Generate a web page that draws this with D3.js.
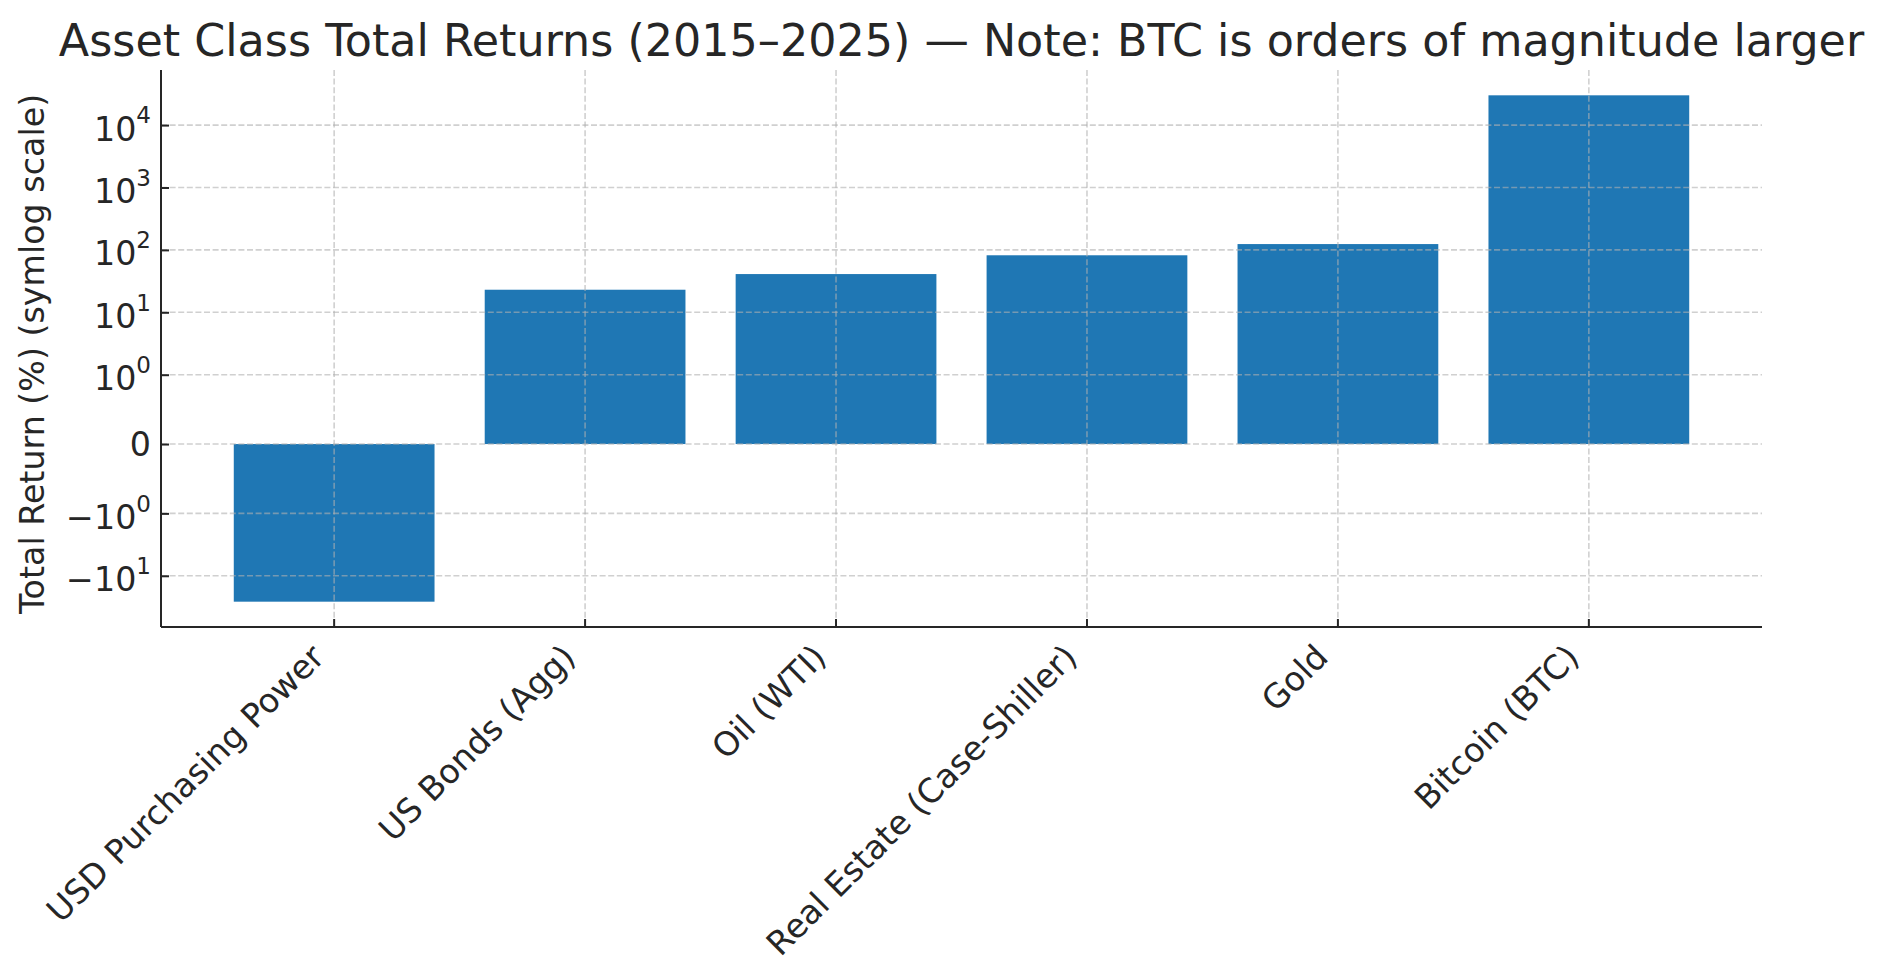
<!DOCTYPE html>
<html>
<head>
<meta charset="utf-8">
<script src="https://cdn.jsdelivr.net/npm/d3@7"></script>
<style>
  body { margin: 0; background: #fff; }
  text { font-family: "DejaVu Sans", sans-serif; fill: #262626; }
  .grid line { stroke: #b0b0b0; stroke-opacity: 0.6; stroke-width: 1.6; stroke-dasharray: 6,2.6; }
  .axis path, .axis line { stroke: #262626; stroke-width: 2; }
</style>
</head>
<body>
<div id="chart"></div>
<script>
// data
const categories = [
  'USD Purchasing Power',
  'US Bonds (Agg)',
  'Oil (WTI)',
  'Real Estate (Case-Shiller)',
  'Gold',
  'Bitcoin (BTC)'
];
const returns = [-26, 23, 41, 82, 124, 30000];

// y tick values and their labels (base, exponent)
const yTicks = [-10, -1, 0, 1, 10, 100, 1000, 10000];
const yTickLabels = [
  ['\u221210', '1'], ['\u221210', '0'], ['0', ''], ['10', '0'],
  ['10', '1'], ['10', '2'], ['10', '3'], ['10', '4']
];

const title = 'Asset Class Total Returns (2015\u20132025) \u2014 Note: BTC is orders of magnitude larger';
const yTitle = 'Total Return (%) (symlog scale)';

// matplotlib style symlog, linthresh = 1, linscale = 1
const linAdj = 1 / (1 - 1 / 10);
const symlog = v => {
  const a = Math.abs(v);
  if (a <= 1) return v * linAdj;
  return Math.sign(v) * (linAdj + Math.log10(a));
};

const width = 1884, height = 979;
const margin = { top: 70, right: 122, bottom: 352, left: 161 };
const innerWidth = width - margin.left - margin.right;
const innerHeight = height - margin.top - margin.bottom;
const fontSize = 33.3;

const svg = d3.select('#chart').append('svg')
  .attr('width', width)
  .attr('height', height);

const plot = svg.append('g')
  .attr('transform', `translate(${margin.left},${margin.top})`);

// scales
const xScale = d3.scaleBand()
  .domain(categories)
  .range([0, innerWidth])
  .paddingInner(0.2)
  .paddingOuter(0.29);

const tExtent = d3.extent(returns.map(symlog));
const pad = (tExtent[1] - tExtent[0]) * 0.05;
const yScale = d3.scaleLinear()
  .domain([tExtent[0] - pad, tExtent[1] + pad])
  .range([innerHeight, 0]);

// bars
plot.selectAll('.bar')
  .data(returns)
  .enter().append('rect')
    .attr('class', 'bar')
    .attr('fill', '#1f77b4')
    .attr('x', (d, i) => xScale(categories[i]))
    .attr('width', xScale.bandwidth())
    .attr('y', d => yScale(Math.max(symlog(d), 0)))
    .attr('height', d => Math.abs(yScale(symlog(d)) - yScale(0)));

// grid (drawn above bars like the reference)
const grid = plot.append('g').attr('class', 'grid');
grid.selectAll('.hgrid')
  .data(yTicks)
  .enter().append('line')
    .attr('x1', 0).attr('x2', innerWidth)
    .attr('y1', d => yScale(symlog(d)))
    .attr('y2', d => yScale(symlog(d)));
grid.selectAll('.vgrid')
  .data(categories)
  .enter().append('line')
    .attr('x1', d => xScale(d) + xScale.bandwidth() / 2)
    .attr('x2', d => xScale(d) + xScale.bandwidth() / 2)
    .attr('y1', 0).attr('y2', innerHeight);

// y axis
const yAxis = d3.axisLeft(yScale)
  .tickValues(yTicks.map(symlog))
  .tickSizeInner(-8)
  .tickSizeOuter(0)
  .tickPadding(10)
  .tickFormat('');

const yG = plot.append('g')
  .attr('class', 'y axis')
  .call(yAxis);

yG.selectAll('.tick text').each(function(d, i) {
  const t = d3.select(this)
    .attr('font-size', fontSize)
    .attr('dy', yTickLabels[i][1] ? '0.45em' : '0.35em');
  t.append('tspan').text(yTickLabels[i][0]);
  if (yTickLabels[i][1]) {
    t.append('tspan')
      .attr('font-size', 23)
      .attr('dy', '-0.75em')
      .text(yTickLabels[i][1]);
  }
});

// x axis
const xAxis = d3.axisBottom(xScale)
  .tickSizeInner(-8)
  .tickSizeOuter(0)
  .tickFormat('');

const xG = plot.append('g')
  .attr('class', 'x axis')
  .attr('transform', `translate(0,${innerHeight})`)
  .call(xAxis);

xG.selectAll('.tick text')
  .attr('font-size', fontSize)
  .attr('text-anchor', 'end')
  .attr('dy', 0)
  .attr('y', 0)
  .attr('transform', 'translate(-8,32) rotate(-45)')
  .text(d => d);

// extend spines across the full plot area
xG.select('.domain').attr('d', `M0,0H${innerWidth}`);
yG.select('.domain').attr('d', `M0,0V${innerHeight}`);

// title
svg.append('text')
  .attr('x', margin.left + innerWidth / 2)
  .attr('y', 56)
  .attr('text-anchor', 'middle')
  .attr('font-size', 44.4)
  .text(title);

// y axis title
svg.append('text')
  .attr('transform', `translate(44,354) rotate(-90)`)
  .attr('text-anchor', 'middle')
  .attr('font-size', fontSize)
  .text(yTitle);
</script>
</body>
</html>
